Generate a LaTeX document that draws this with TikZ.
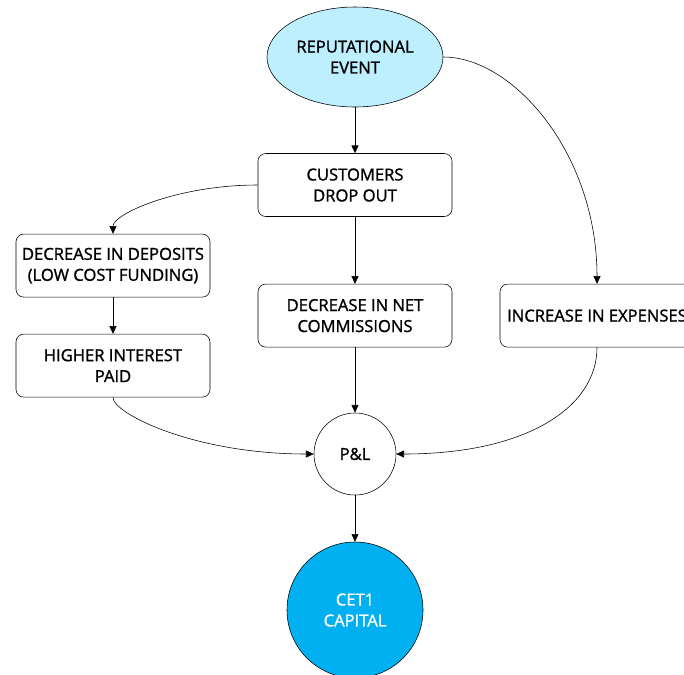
\documentclass[tikz,border=0pt]{standalone}
\usepackage{fontspec}
\setmainfont{Open Sans}
\usepackage{tikz}
\usetikzlibrary{arrows.meta}
\usetikzlibrary{shapes.geometric}

\definecolor{evFill}{RGB}{189,239,255}
\definecolor{capFill}{RGB}{0,176,240}

\begin{document}
\begin{tikzpicture}[inner sep=2pt, font=\fontsize{11.8}{14.9}\selectfont\addfontfeature{FakeBold=1.3}]
            \useasboundingbox (0,0) rectangle (17.1,-16.85);

            \tikzstyle{myBox}=[draw, rounded corners=5.5pt, minimum width=4.85cm, minimum height=1.575cm, align=center];
            \tikzstyle{myCir}=[draw, circle, align=center];
            \tikzstyle{myArr}=[-{Triangle[length=5.5pt,width=5pt]}];

            \node[draw, ellipse, fill=evFill, minimum width=4.4cm, minimum height=2.5cm, align=center] (ev) at (8.875,-1.425) {REPUTATIONAL\\EVENT};
            \node[myBox] (cust) at (8.875,-4.625) {CUSTOMERS\\DROP OUT};
            \node[myBox] (dep) at (2.825,-6.64) {DECREASE IN DEPOSITS\\(LOW COST FUNDING)};
            \node[myBox] (hip) at (2.825,-9.14) {HIGHER INTEREST\\PAID};
            \node[myBox] (ncm) at (8.875,-7.89) {DECREASE IN NET\\COMMISSIONS};
            \node[myBox] (exp) at (14.925,-7.89) {INCREASE IN EXPENSES};
            \node[myCir, minimum size=2.05cm] (pl) at (8.875,-11.35) {P\&L};
            \node[myCir, fill=capFill, text=white, minimum size=3.4cm] (cet) at (8.875,-15.25) {CET1\\CAPITAL};

            \draw[myArr] (ev) -- (cust);
            \draw[myArr] (ev.east) .. controls +(1.75,0) and +(0,3.25) .. (exp.north);
            \draw[myArr] (cust.west) .. controls +(-2,0) and +(0,0.5) .. (dep.north);
            \draw[myArr] (cust) -- (ncm);
            \draw[myArr] (dep) -- (hip);
            \draw[myArr] (hip.south) .. controls +(0,-0.4) and +(-3,0) .. (pl.west);
            \draw[myArr] (ncm) -- (pl);
            \draw[myArr] (exp.south) .. controls +(0,-1.5) and +(3.25,0) .. (pl.east);
            \draw[myArr] (pl) -- (cet);
         \end{tikzpicture}
\end{document}
